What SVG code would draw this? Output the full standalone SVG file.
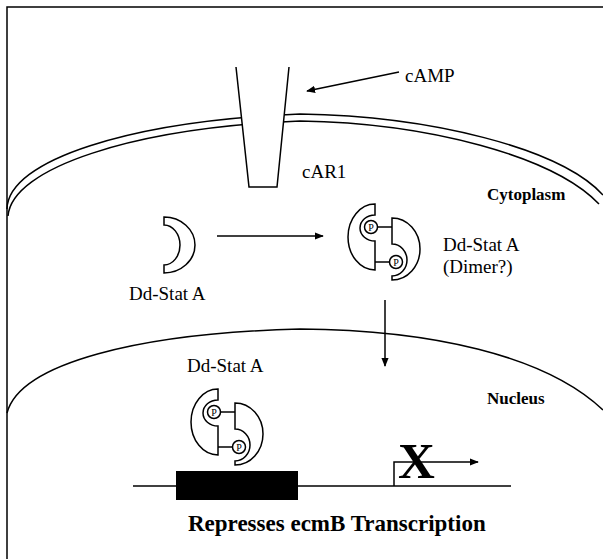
<svg xmlns="http://www.w3.org/2000/svg" xmlns:xlink="http://www.w3.org/1999/xlink" width="603" height="559" viewBox="0 0 603 559">
  <style>
    .ln { fill: none; stroke: #000; stroke-width: 1.5; }
    .shape { fill: #fff; stroke: #000; stroke-width: 1.5; stroke-linejoin: miter; }
    .t { font-family: "Liberation Serif", "Times New Roman", serif; font-size: 19px; fill: #000; }
    .tb { font-family: "Liberation Serif", "Times New Roman", serif; font-weight: bold; fill: #000; }
    .p { font-family: "Liberation Serif", "Times New Roman", serif; font-size: 10px; fill: #000; text-anchor: middle; }
  </style>
  <defs>
    <marker id="ah" viewBox="0 0 10 10" refX="9" refY="5" markerWidth="9" markerHeight="9" markerUnits="userSpaceOnUse" orient="auto">
      <path d="M0,1 L10,5 L0,9 Z" fill="#000"/>
    </marker>
    <!-- phosphorylated Stat dimer, origin at top of left subunit's flat edge -->
    <g id="dimer">
      <path class="shape" d="M0,0 A27,33 0 0 0 0,66 L0,37 A15,13 0 0 1 0,11 Z"/>
      <path class="shape" d="M17,14 A28,31 0 0 1 17,76 L17,72 A15,16 0 0 0 17,40 Z"/>
      <line class="ln" x1="3" y1="23" x2="17" y2="23"/>
      <line class="ln" x1="0" y1="58" x2="14" y2="58"/>
      <circle class="shape" cx="-4" cy="23" r="6.5"/>
      <text class="p" x="-4" y="26.5">P</text>
      <circle class="shape" cx="21" cy="58" r="6.5"/>
      <text class="p" x="21" y="61.5">P</text>
    </g>
  </defs>

  <rect width="603" height="559" fill="#fff"/>

  <!-- frame -->
  <path class="ln" d="M7,559 V7 H603"/>

  <!-- plasma membrane (double line) -->
  <g id="membrane">
    <path class="ln" d="M7,209 C8,160 130,121 300,114 C430,116 560,148 603,195"/>
    <path class="ln" d="M8,216 C12,168 132,128 300,121 C428,123 553,156 599,204"/>
  </g>

  <!-- nuclear envelope -->
  <path id="nucleus-envelope" class="ln" d="M7,413 C20,363 140,333 300,329 C430,330 545,355 603,410"/>

  <!-- cAR1 receptor -->
  <g id="car1">
    <polygon points="236,67 289,67 277,187 249,187" fill="#fff"/>
    <polyline class="ln" points="236,67 249,187 277,187 289,67"/>
    <text class="t" x="302" y="178" font-size="20">cAR1</text>
  </g>

  <g id="camp">
    <text class="t" x="405" y="82" font-size="21">cAMP</text>
  </g>

  <g id="cytoplasm-label">
    <text class="tb" x="487" y="200" font-size="17">Cytoplasm</text>
  </g>

  <!-- inactive monomer -->
  <g id="stat-monomer">
    <path class="shape" d="M164,217 A31,28 0 0 1 164,273 L164,265 A16,20 0 0 0 164,225 Z"/>
    <text class="t" x="129" y="300">Dd-Stat A</text>
  </g>

  <!-- dimer in cytoplasm -->
  <g id="stat-dimer-cytoplasm">
    <use xlink:href="#dimer" transform="translate(375,204)"/>
    <text class="t" x="443" y="251">Dd-Stat A</text>
    <text class="t" x="443" y="273">(Dimer?)</text>
  </g>

  <g id="nucleus-label">
    <text class="tb" x="487" y="404" font-size="17">Nucleus</text>
  </g>

  <!-- dimer on the DNA -->
  <g id="stat-dimer-nucleus">
    <use xlink:href="#dimer" transform="translate(218,389)"/>
    <text class="t" x="187" y="372">Dd-Stat A</text>
  </g>

  <!-- ecmB gene -->
  <g id="gene">
    <line class="ln" x1="133" y1="486" x2="511" y2="486"/>
    <rect x="176" y="471" width="122" height="29" fill="#000"/>
  </g>

  <g id="connectors">
    <line class="ln" x1="399" y1="72" x2="307" y2="91" marker-end="url(#ah)"/>
    <line class="ln" x1="217" y1="236" x2="323" y2="236" marker-end="url(#ah)"/>
    <line class="ln" x1="385" y1="300" x2="385" y2="366" marker-end="url(#ah)"/>
    <path class="ln" d="M394,486 V462 H478" marker-end="url(#ah)"/>
  </g>

  <g id="block">
    <text class="tb" x="398" y="478" font-size="51">X</text>
  </g>

  <g id="caption">
    <text class="tb" x="188" y="531" font-size="23">Represses ecmB Transcription</text>
  </g>
</svg>
